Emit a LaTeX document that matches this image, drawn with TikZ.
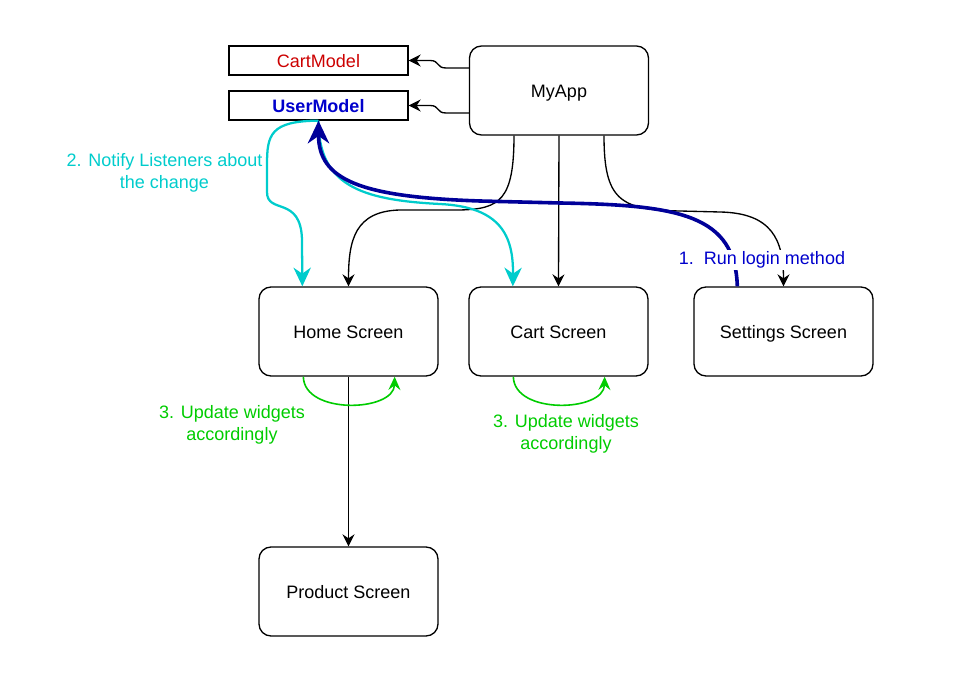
\documentclass[tikz,border=0pt]{standalone}
\usepackage{fontspec}
\setmainfont{Liberation Sans}
\usetikzlibrary{arrows.meta,calc}
\definecolor{cyanc}{HTML}{00CCCC}
\definecolor{bluel}{HTML}{000099}
\definecolor{bluet}{HTML}{0000CC}
\definecolor{greenc}{HTML}{00CC00}
\definecolor{redt}{HTML}{CC0000}
\begin{document}
\begin{tikzpicture}[x=0.75pt,y=-0.75pt,
  font=\fontsize{13.5}{16}\selectfont,
  model/.style={draw,line width=1pt,minimum width=179*0.75pt,minimum height=29*0.75pt,inner sep=0pt,text height=9.9pt,text depth=0pt},
  screen/.style={draw,line width=1pt,rounded corners=9pt,minimum width=179*0.75pt,minimum height=89*0.75pt,inner sep=0pt,text height=10.2pt,text depth=0pt},
  blk/.style={line width=1pt,-{Stealth[length=9pt,width=9pt,inset=3pt]}},
  cy/.style={cyanc,line width=1.7pt,-{Stealth[length=14pt,width=13pt,inset=4.5pt]}},
  bl/.style={bluel,line width=2.7pt,-{Stealth[length=17pt,width=16pt,inset=5.5pt]}},
  gr/.style={greenc,line width=1.2pt,-{Stealth[length=10pt,width=9pt,inset=3.5pt]}},
  lbl/.style={align=center,inner sep=1pt}]
\useasboundingbox (0,0) rectangle (976,691);
\node[model,text=redt] (cart) at (318.5,60.5) {CartModel};
\node[model,text=bluet,font=\fontsize{13.5}{16}\selectfont\bfseries] (user) at (318.5,105.5) {UserModel};
\node[screen] (app) at (559,90.5) {MyApp};
\node[screen] (home) at (348.5,331.5) {Home Screen};
\node[screen] (cscr) at (558.5,331.5) {Cart Screen};
\node[screen] (sett) at (783.5,331.5) {Settings Screen};
\node[screen] (prod) at (348.5,591.5) {Product Screen};

% MyApp -> models
\draw[blk] ($(app.west)+(0,-22.5)$) -- (446,68) .. controls (436,68) and (440,60.5) .. (430,60.5) -- (cart.east);
\draw[blk] ($(app.west)+(0,22.5)$) -- (446,113) .. controls (436,113) and (440,105.5) .. (430,105.5) -- (user.east);
% MyApp -> screens
\draw[blk] ($(app.south)+(-45,0)$) .. controls (514,200) and (500,209) .. (460,210) -- (400,210) .. controls (355,211) and (348.5,240) .. (home.north);
\draw[blk] (app.south) -- (cscr.north);
\draw[blk] ($(app.south)+(45,0)$) .. controls (604,200) and (620,210) .. (680,211) -- (720,212) .. controls (772,213) and (783.5,240) .. (sett.north);
% Home -> Product
\draw[blk] (home.south) -- (prod.north);

% cyan notify lines
\draw[cy] (user.south) .. controls (270,121) and (267,135) .. (267,165) -- (267,192) .. controls (267,215) and (301,195) .. (302,240) -- ($(home.north west)+(44,0)$);
\draw[cy] (user.south) .. controls (318.5,185) and (360,200) .. (440,204) .. controls (500,207) and (513.5,235) .. ($(cscr.north west)+(44.5,0)$);
\node[lbl,text=cyanc] (notify) at (164.5,173) {2. Notify Listeners about\\the change};

% blue login line
\draw[bl] ($(sett.north west)+(44,0)$) .. controls (735,215) and (680,205) .. (560,203) -- (480,201) .. controls (360,197) and (318.5,180) .. (user.south);
\node[lbl,fill=white,text=bluet] (login) at (762,260) {1.\ \ Run login method};

% green update loops
\draw[gr] ($(home.south west)+(45,0)$) .. controls (304,415) and (394,412) .. ($(home.south east)+(-44,0)$);
\draw[gr] ($(cscr.south west)+(45,0)$) .. controls (514,415) and (604,412) .. ($(cscr.south east)+(-44,0)$);
\node[lbl,text=greenc] (upd1) at (232,425) {3. Update widgets\\accordingly};
\node[lbl,text=greenc] (upd2) at (566,434) {3. Update widgets\\accordingly};
\end{tikzpicture}
\end{document}
